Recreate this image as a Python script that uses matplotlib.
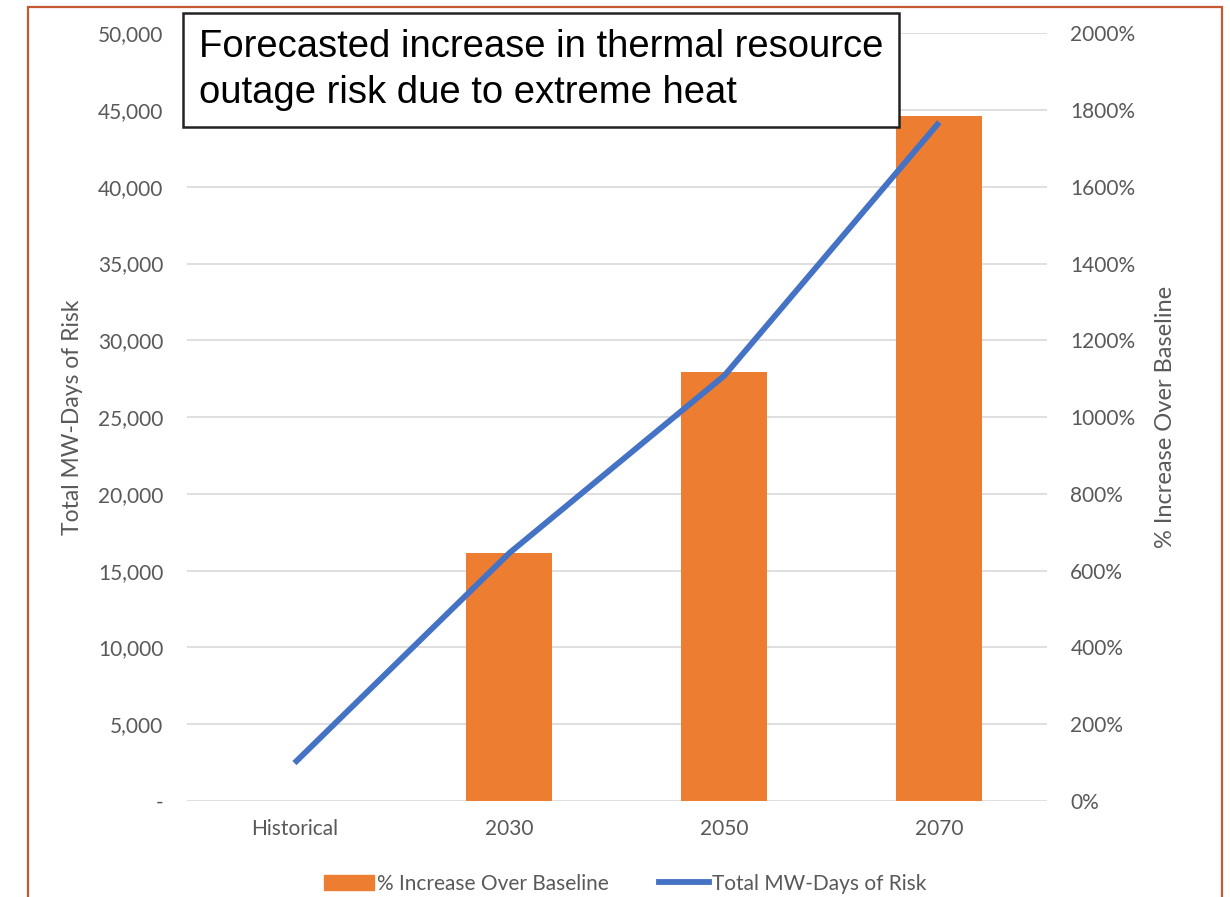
import matplotlib
matplotlib.use("Agg")
import matplotlib.pyplot as plt
from matplotlib.patches import Rectangle
from matplotlib.lines import Line2D
from matplotlib.patches import Patch
from matplotlib.ticker import FuncFormatter, MultipleLocator

categories = ["Historical", "2030", "2050", "2070"]
pct_increase = [0, 645, 1117, 1784]          # % Increase Over Baseline (right axis)
mw_days = [2470, 16150, 27700, 44200]         # Total MW-Days of Risk (left axis)
title_text = "Forecasted increase in thermal resource\noutage risk due to extreme heat"

BAR_C = "#ED7D31"
LINE_C = "#4472C4"
GRID_C = "#D9D9D9"
TXT_C = "#595959"
FONT = ["Lato", "DejaVu Sans"]

fig = plt.figure(figsize=(12.3, 8.97), dpi=100)
ax = fig.add_axes([0.152, 0.107, 0.699, 0.856])
ax2 = ax.twinx()

x = list(range(len(categories)))
ax2.bar(x, pct_increase, width=0.4, color=BAR_C, zorder=2)
ax2.set_ylim(0, 2000)
ax.set_ylim(0, 50000)
ax.set_xlim(-0.5, 3.5)

ax3 = ax.twinx()
ax3.set_ylim(0, 50000)
ax3.plot(x, mw_days, color=LINE_C, lw=4.2, solid_capstyle="butt", zorder=3)
ax3.axis("off")

ax.yaxis.set_major_locator(MultipleLocator(5000))
ax2.yaxis.set_major_locator(MultipleLocator(200))
ax.grid(axis="y", color=GRID_C, lw=1.2)
ax.set_axisbelow(True)

ax.yaxis.set_major_formatter(FuncFormatter(lambda v, p: "-" if v == 0 else f"{int(v):,}"))
ax2.yaxis.set_major_formatter(FuncFormatter(lambda v, p: f"{int(v)}%"))

ax.set_xticks(x)
ax.set_xticklabels(categories)

for a in (ax, ax2, ax3):
    for s in a.spines.values():
        s.set_visible(False)
ax.tick_params(axis="both", length=0, colors=TXT_C, labelsize=15)
ax.tick_params(axis="y", pad=17)
ax.tick_params(axis="x", pad=13)
ax2.tick_params(axis="y", length=0, colors=TXT_C, labelsize=15, pad=17)
for lab in ax.get_xticklabels() + ax.get_yticklabels() + ax2.get_yticklabels():
    lab.set_family(FONT)

ax.set_ylabel("Total MW-Days of Risk", color=TXT_C, fontsize=16.5, family=FONT, labelpad=11)
ax2.set_ylabel("% Increase Over Baseline", color=TXT_C, fontsize=17, family=FONT,
               rotation=90, labelpad=14)

# title box
fig.text(0.1615, 0.922, title_text, fontsize=27.5, family=["Liberation Sans", "DejaVu Sans"],
         color="black", ha="left", va="center", linespacing=1.38, zorder=10,
         bbox=dict(boxstyle="square,pad=0.42", fc="white", ec="#222222", lw=1.8))

# legend
handles = [Patch(color=BAR_C, label="% Increase Over Baseline"),
           Line2D([0], [0], color=LINE_C, lw=4.2, label="Total MW-Days of Risk")]
fig.legend(handles=handles, loc="center", bbox_to_anchor=(0.508, 0.015), ncol=2, frameon=False,
           prop={"family": FONT, "size": 15}, labelcolor=TXT_C, handlelength=2.4,
           handletextpad=0.15, columnspacing=2.4)

# outer frame
fig.patches.append(Rectangle((28 / 1230, -0.05), (1222 - 28) / 1230, 1.05 - 7 / 897,
                             transform=fig.transFigure, fill=False, ec="#C55A30", lw=1.6,
                             clip_on=False))

fig.savefig("out.png", dpi=100)
